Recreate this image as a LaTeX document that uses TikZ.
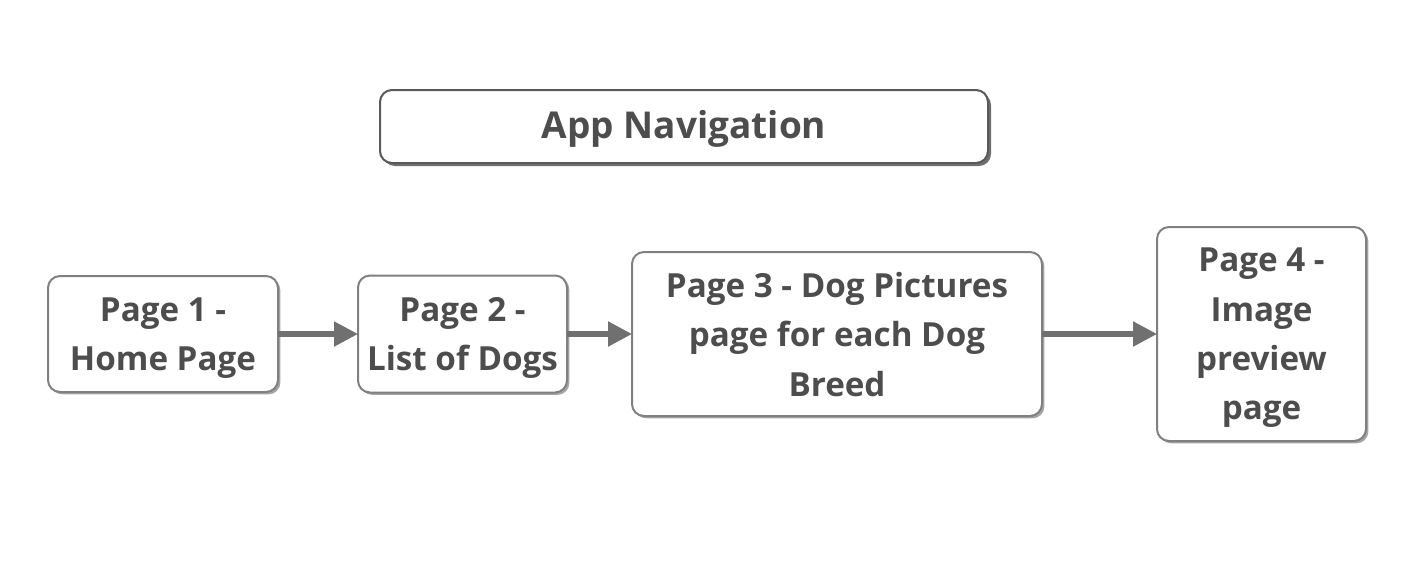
\documentclass[tikz,border=0pt]{standalone}
\usepackage{fontspec}
\setmainfont{Open Sans}
\usepackage{tikz}
\usetikzlibrary{positioning}
\usetikzlibrary{shadows}
\usetikzlibrary{arrows.meta}

\definecolor{boxline}{HTML}{808080}
\definecolor{boxtext}{HTML}{4D4D4D}
\definecolor{arrowgray}{HTML}{707070}

\tikzset{
  navbox/.style={draw=boxline,line width=1pt,rounded corners=6pt,fill=white,align=center,inner sep=0pt,outer sep=0pt,
    text=boxtext},
  pagebox/.style={navbox,font=\fontsize{16.6}{24.7}\selectfont\bfseries,text depth=-1pt,
    drop shadow={shadow xshift=1.2pt,shadow yshift=-1.2pt,opacity=0.35,fill=black}},
  titlebox/.style={navbox,draw=black!65,font=\fontsize{18.5}{24}\selectfont\bfseries,
    execute at begin node={\rule{0pt}{16.5pt}},
    drop shadow={shadow xshift=1.5pt,shadow yshift=-1.5pt,opacity=0.75,fill=black!75}},
  navarrow/.style={draw=arrowgray,line width=2.6pt,-{Triangle[length=12pt,width=12pt]}}
}

\begin{document}
\begin{tikzpicture}
\useasboundingbox (0pt,0pt) rectangle (706pt,-285pt);

\node[titlebox,minimum width=304pt,minimum height=36.5pt](title) at (342pt,-63.25pt){App Navigation};

\node[pagebox,minimum width=115pt,minimum height=58pt](1) at (81.5pt,-167pt){Page 1 -\\Home Page};
\node[pagebox,minimum width=104.5pt,minimum height=58.5pt](2)[right=40pt of 1]{Page 2 -\\List of Dogs};
\node[pagebox,minimum width=205pt,minimum height=82pt](3)[right=32.5pt of 2]{Page 3 - Dog Pictures\\page for each Dog\\Breed};
\node[pagebox,minimum width=104.5pt,minimum height=107pt](4)[right=57.5pt of 3]{Page 4 -\\Image\\preview\\page};

\draw[navarrow](1)--(2);
\draw[navarrow](2)--(3);
\draw[navarrow](3)--(4);

\end{tikzpicture}
\end{document}
